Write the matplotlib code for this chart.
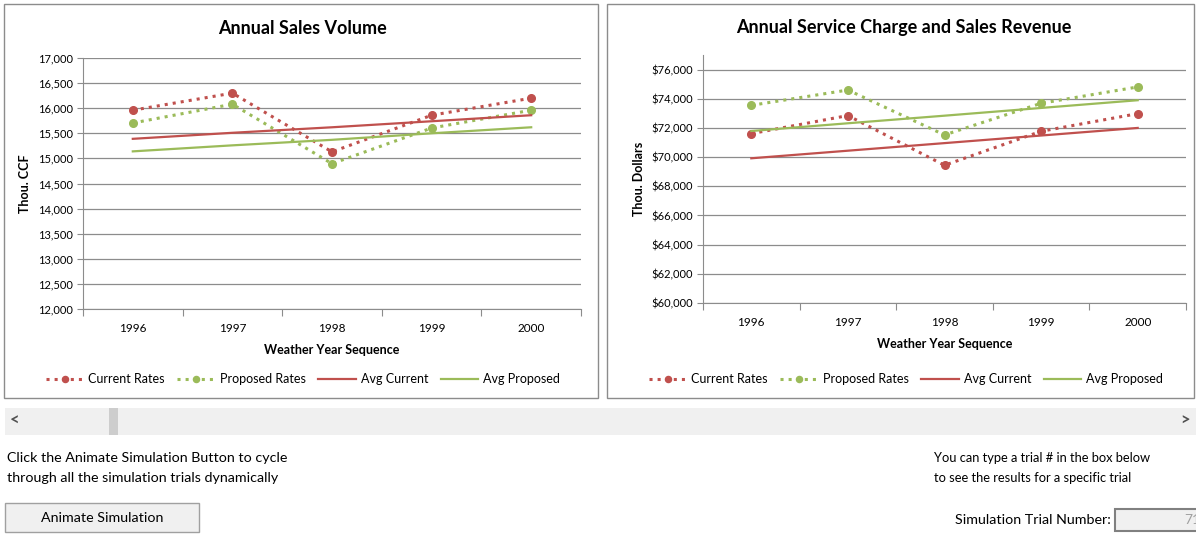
import matplotlib
matplotlib.use("Agg")
import matplotlib.pyplot as plt
from matplotlib.patches import Rectangle
from matplotlib.ticker import FuncFormatter, FixedLocator

plt.rcParams["font.family"] = ["Lato", "DejaVu Sans"]

years = ["1996", "1997", "1998", "1999", "2000"]

# Annual Sales Volume (Thou. CCF)
vol_current = [15960, 16300, 15130, 15860, 16200]
vol_proposed = [15705, 16080, 14895, 15605, 15960]
vol_avg_current = [15390, 15510, 15620, 15740, 15860]
vol_avg_proposed = [15140, 15260, 15370, 15500, 15620]

# Annual Service Charge and Sales Revenue (Thou. Dollars)
rev_current = [71610, 72850, 69440, 71770, 72980]
rev_proposed = [73550, 74600, 71520, 73690, 74810]
rev_avg_current = [69920, 70440, 70960, 71480, 72000]
rev_avg_proposed = [71790, 72320, 72840, 73370, 73900]

RED = "#C0504D"
GREEN = "#9BBB59"
GRID = "#8C8C8C"
W, H = 1196, 546


def px(x0, y0, x1, y1):
    """pixel box (top-left origin) -> figure fraction [l, b, w, h]"""
    return [x0 / W, 1 - y1 / H, (x1 - x0) / W, (y1 - y0) / H]


def draw_chart(ax, cur, prop, avg_c, avg_p, ylim, yticks, fmt, ylabel):
    x = list(range(len(years)))
    ax.plot(x, cur, ":", color=RED, lw=2.2, marker="o", ms=5.5, label="Current Rates")
    ax.plot(x, prop, ":", color=GREEN, lw=2.2, marker="o", ms=5.5, label="Proposed Rates")
    ax.plot(x, avg_c, "-", color=RED, lw=1.6, label="Avg Current")
    ax.plot(x, avg_p, "-", color=GREEN, lw=1.6, label="Avg Proposed")
    ax.set_xlim(-0.5, len(years) - 0.5)
    ax.set_ylim(*ylim)
    ax.yaxis.set_major_locator(FixedLocator(yticks))
    ax.yaxis.set_major_formatter(FuncFormatter(fmt))
    ax.grid(axis="y", color=GRID, lw=0.9)
    ax.set_axisbelow(True)
    ax.xaxis.set_major_locator(FixedLocator([i - 0.5 for i in range(len(years) + 1)]))
    ax.xaxis.set_minor_locator(FixedLocator(x))
    ax.set_xticklabels([], minor=False)
    ax.set_xticklabels(years, minor=True)
    ax.tick_params(axis="x", which="major", length=5, color=GRID, direction="out")
    ax.tick_params(axis="x", which="minor", length=0, pad=10, labelsize=8.5)
    ax.tick_params(axis="y", length=4, color=GRID, labelsize=8, pad=3)
    for s in ["top", "right"]:
        ax.spines[s].set_visible(False)
    for s in ["left", "bottom"]:
        ax.spines[s].set_color(GRID)
    ax.set_xlabel("Weather Year Sequence", fontsize=9, fontweight="bold", labelpad=7)
    ax.set_ylabel(ylabel, fontsize=9, fontweight="bold", labelpad=5)


fig = plt.figure(figsize=(W / 100, H / 100), dpi=100)
fig.patch.set_facecolor("white")

# panel borders
for box in [(4, 4, 598, 398), (607, 4, 1194, 398)]:
    l, b, w, h = px(*box)
    fig.patches.append(Rectangle((l, b), w, h, transform=fig.transFigure,
                                 fill=False, edgecolor="#8C8C8C", lw=1.0))

ax1 = fig.add_axes(px(83, 58, 581, 309))
draw_chart(ax1, vol_current, vol_proposed, vol_avg_current, vol_avg_proposed,
           (12000, 17000), list(range(12000, 17001, 500)),
           lambda v, p: f"{v:,.0f}", "Thou. CCF")

ax2 = fig.add_axes(px(703, 55, 1186, 303))
draw_chart(ax2, rev_current, rev_proposed, rev_avg_current, rev_avg_proposed,
           (60000, 77000), list(range(60000, 76001, 2000)),
           lambda v, p: f"${v:,.0f}", "Thou. Dollars")

fig.text(302 / W, 1 - 28 / H, "Annual Sales Volume", ha="center", va="center",
         fontsize=13, fontweight="bold")
fig.text(904 / W, 1 - 28 / H, "Annual Service Charge and Sales Revenue", ha="center",
         va="center", fontsize=13, fontweight="bold")

for ax, cx in [(ax1, 303), (ax2, 906)]:
    handles, labels = ax.get_legend_handles_labels()
    fig.legend(handles, labels, loc="center", bbox_to_anchor=(cx / W, 1 - 379 / H),
               ncol=4, frameon=False, fontsize=9, handlelength=3.0,
               handletextpad=0.4, columnspacing=1.0, markerscale=0.8)

# scrollbar
l, b, w, h = px(5, 408, 1196, 435)
fig.patches.append(Rectangle((l, b), w, h, transform=fig.transFigure,
                             facecolor="#F0F0F0", edgecolor="none"))
l, b, w, h = px(109, 408, 118, 435)
fig.patches.append(Rectangle((l, b), w, h, transform=fig.transFigure,
                             facecolor="#CDCDCD", edgecolor="none"))
fig.text(15 / W, 1 - 421 / H, "<", ha="center", va="center", fontsize=12,
         fontweight="bold", color="#505050")
fig.text(1185 / W, 1 - 421 / H, ">", ha="center", va="center", fontsize=12,
         fontweight="bold", color="#505050")

# instructions
fig.text(7 / W, 1 - 458 / H, "Click the Animate Simulation Button to cycle",
         ha="left", va="center", fontsize=10.3)
fig.text(7 / W, 1 - 478 / H, "through all the simulation trials dynamically",
         ha="left", va="center", fontsize=10.3)
fig.text(934 / W, 1 - 458 / H, "You can type a trial # in the box below",
         ha="left", va="center", fontsize=9.3)
fig.text(934 / W, 1 - 478 / H, "to see the results for a specific trial",
         ha="left", va="center", fontsize=9.3)

# button
l, b, w, h = px(5, 503, 199, 532)
fig.patches.append(Rectangle((l, b), w, h, transform=fig.transFigure,
                             facecolor="#F0F0F0", edgecolor="#A0A0A0", lw=1.0))
fig.text(102 / W, 1 - 518 / H, "Animate Simulation", ha="center", va="center",
         fontsize=10.3)

# trial number box (value is cut off by the window edge, as in the source)
fig.text(1111 / W, 1 - 520 / H, "Simulation Trial Number:", ha="right", va="center",
         fontsize=10.3)
l, b, w, h = px(1115, 509, 1200, 531)
fig.patches.append(Rectangle((l, b), w, h, transform=fig.transFigure,
                             facecolor="#F0F0F0", edgecolor="#808080", lw=1.5))
fig.text(1184 / W, 1 - 520 / H, "71", ha="left", va="center", fontsize=10,
         color="#A0A0A0", clip_on=True)

fig.savefig("out.png", dpi=100, facecolor="white")
